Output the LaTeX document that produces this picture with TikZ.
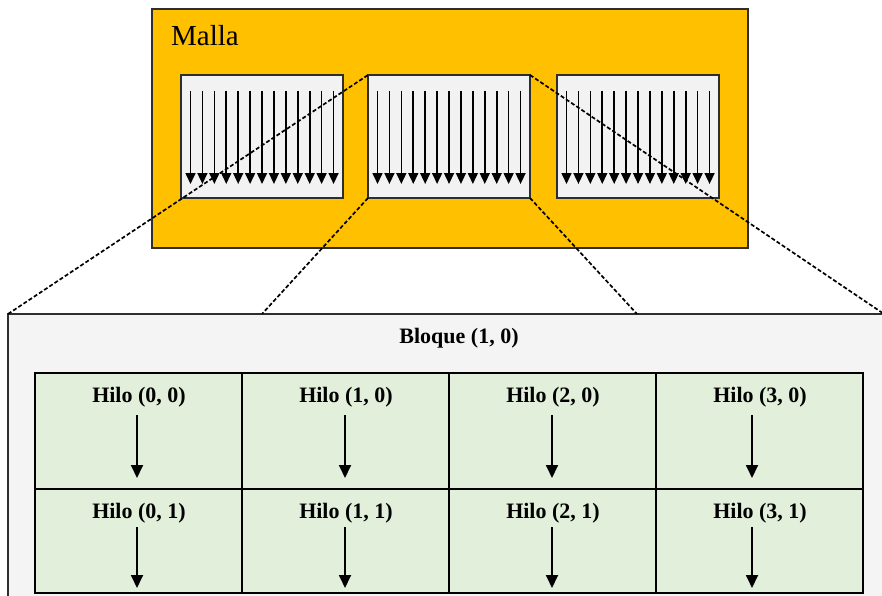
\documentclass[tikz,border=0pt]{standalone}
\usepackage{fontspec}
\setmainfont{Liberation Serif}
\usetikzlibrary{arrows.meta,calc}
\definecolor{gridgold}{HTML}{FFC000}
\definecolor{blockgray}{HTML}{F2F2F2}
\definecolor{panelgray}{HTML}{F4F4F4}
\definecolor{cellgreen}{HTML}{E2EFDA}
\definecolor{edgegray}{HTML}{2E2E2E}
\begin{document}
\begin{tikzpicture}[x=1pt,y=-1pt,
  box/.style={draw=edgegray, line width=1.6pt, inner sep=0pt, outer sep=0pt, anchor=north west},
  thread/.style={line width=1.6pt, -{Triangle[width=10pt,length=11pt]}},
  cellarrow/.style={line width=1.8pt, -{Triangle[width=12pt,length=13pt]}},
  zoomline/.style={line width=1.7pt, dash pattern=on 4pt off 2.2pt},
  cell/.style={draw=black, line width=2.2pt, fill=cellgreen, inner sep=0pt, outer sep=0pt,
    anchor=north west, minimum width=207pt},
  hilo/.style={font=\bfseries\fontsize{22}{25}\selectfont, inner sep=0pt}
]
\useasboundingbox (0,0) rectangle (882,596);
\begin{scope}
\clip (0,0) rectangle (882,596);

% grid of blocks
\node[box, fill=gridgold, minimum width=596pt, minimum height=239pt] (malla) at (152,9) {};
\node[anchor=west, inner sep=0pt, font=\fontsize{29}{33}\selectfont] (mallatitle) at (171,36) {Malla};

% three blocks, each with 13 threads
\foreach \name/\x in {b1/181,b2/368,b3/557} {
  \node[box, fill=blockgray, minimum width=162pt, minimum height=123pt] (\name) at (\x,75) {};
  \foreach \i in {0,...,12}
    \draw[thread] (\x+9.5+\i*11.92, 91) -- (\x+9.5+\i*11.92, 184);
}

% enlarged block
\node[box, fill=panelgray, line width=1.4pt, minimum width=900pt, minimum height=320pt] (panel) at (8,314) {};
\node[hilo] (ptitle) at (459,338) {Bloque (1, 0)};

% threads of the block
\foreach \c/\x in {0/35,1/242,2/449,3/656} {
  \node[cell, minimum height=116pt] (c\c0) at (\x,373) {};
  \node[cell, minimum height=104pt] (c\c1) at (\x,489) {};
}
\foreach \c/\x/\ax in {0/35/137,1/242/345,2/449/552,3/656/752} {
  \node[hilo] (h\c0) at (\x+104,397) {Hilo (\c, 0)};
  \node[hilo] (h\c1) at (\x+104,513) {Hilo (\c, 1)};
  \coordinate (t\c0) at (\ax,415);
  \coordinate (t\c1) at (\ax,527);
  \draw[cellarrow] (t\c0) -- (\ax,478);
  \draw[cellarrow] (t\c1) -- (\ax,588);
}

% zoom guides from the middle block to the enlarged view
\coordinate (pl) at (262,314);
\coordinate (pr) at (637,314);
\coordinate (pe) at (884,314);
\draw[zoomline] (panel.north west) -- (b2.north west);
\draw[zoomline] (b2.north east) -- (pe);
\draw[zoomline] (b2.south west) -- (pl);
\draw[zoomline] (b2.south east) -- (pr);
\end{scope}
\end{tikzpicture}
\end{document}
